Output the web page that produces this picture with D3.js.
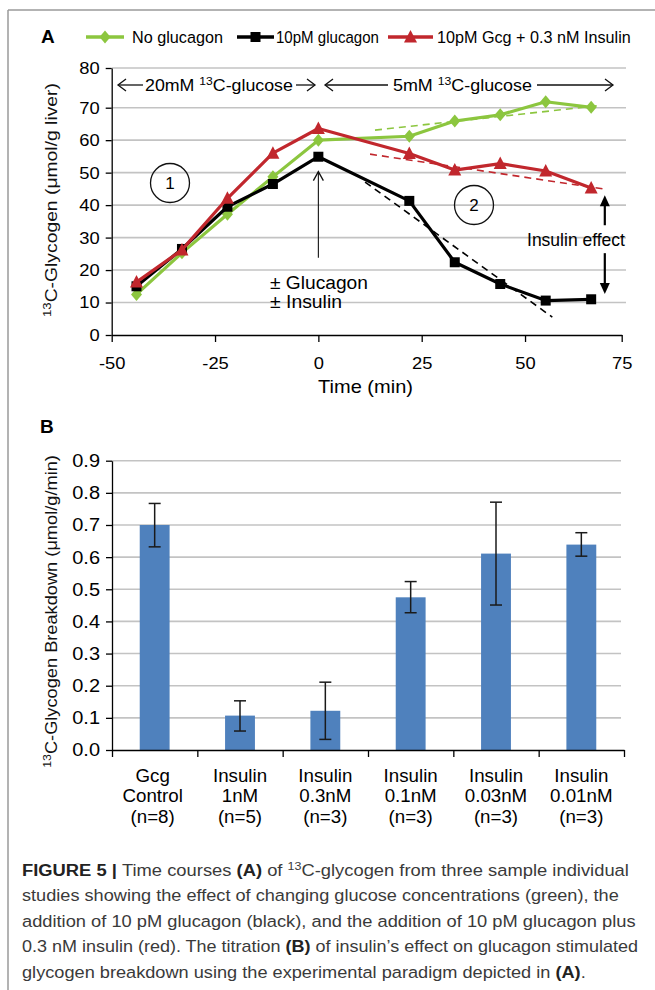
<!DOCTYPE html>
<html><head><meta charset="utf-8">
<script src="https://cdn.jsdelivr.net/npm/d3@7"></script>
<style>
body{margin:0;background:#fff;}
svg{display:block;font-family:"Liberation Sans",Arial,sans-serif;}
text{white-space:pre;}
</style></head><body>
<svg id="c" width="655" height="990"></svg>
<script>
// ---------- Panel A data ----------
const times = [-44, -33, -22, -11, 0, 22, 33, 44, 55, 66];
const noGlucagon   = [12.5, 25.3, 37.2, 48.7, 60.0, 61.2, 65.9, 67.8, 71.5, 70.1];
const glucagon10pM = [15.0, 26.5, 39.5, 46.5, 54.9, 41.3, 22.4, 15.7, 10.6, 11.0];
const gcgInsulin   = [16.3, 26.2, 42.1, 56.0, 63.6, 55.9, 50.8, 52.8, 50.5, 45.3];
const seriesNames  = ["No glucagon", "10pM glucagon", "10pM Gcg + 0.3 nM Insulin"];
const xTicksA = [-50, -25, 0, 25, 50, 75];
const yTicksA = [0, 10, 20, 30, 40, 50, 60, 70, 80];
// dashed trend lines: [time, value] end points
const trendGreen = [[13.7, 63.1], [67.7, 70.5]];
const trendRed   = [[12.5, 55.7], [69.4, 44.9]];
const trendBlack = [[11.3, 47.1], [56.6, 5.5]];

// ---------- Panel B data ----------
const categories = [
  ["Gcg", "Control", "(n=8)"],
  ["Insulin", "1nM", "(n=5)"],
  ["Insulin", "0.3nM", "(n=3)"],
  ["Insulin", "0.1nM", "(n=3)"],
  ["Insulin", "0.03nM", "(n=3)"],
  ["Insulin", "0.01nM", "(n=3)"]
];
const breakdown = [0.700, 0.107, 0.122, 0.475, 0.611, 0.639];
const errLow    = [0.632, 0.059, 0.033, 0.427, 0.451, 0.603];
const errHigh   = [0.767, 0.153, 0.211, 0.524, 0.771, 0.676];
const yTicksB = [0, 0.1, 0.2, 0.3, 0.4, 0.5, 0.6, 0.7, 0.8, 0.9];

// ---------- styles ----------
const GREEN = "#8cc63f", RED = "#c1272d", BLACK = "#000", BLUE = "#4f81bd", GRID = "#c3c3c3";

const svg = d3.select("#c");

function stretch(sel, sx) {
  sel.each(function () {
    const t = d3.select(this);
    const x = +t.attr("x") || 0;
    t.attr("transform", `translate(${x},0) scale(${sx},1) translate(${-x},0)`);
  });
}
function fitW(node, x0, target) {
  const w = node.getComputedTextLength();
  const k = target / w;
  d3.select(node).attr("transform", `translate(${x0},0) scale(${k},1) translate(${-x0},0)`);
}
function richText(g, segs, fs) {
  const t = g.append("text");
  let sup = false;
  segs.forEach(s => {
    const ts = t.append("tspan").text(s.t);
    if (s.bold) ts.attr("font-weight", "bold").attr("fill", "#222");
    if (s.sup) { ts.attr("font-size", fs * 0.68).attr("dy", -fs * 0.38); sup = true; }
    else if (sup) { ts.attr("dy", fs * 0.38); sup = false; }
  });
  return t;
}

// frame
svg.append("line").attr("x1", 8).attr("x2", 8).attr("y1", 10).attr("y2", 990).attr("stroke", "#9a9a9a").attr("stroke-width", 1.5);
svg.append("line").attr("x1", 8).attr("x2", 655).attr("y1", 10).attr("y2", 10).attr("stroke", "#9a9a9a").attr("stroke-width", 1.5);

// ================= PANEL A =================
const xA = d3.scaleLinear().domain([-50, 70, 75]).range([111.7, 607.7, 621.7]);
const yA = d3.scaleLinear().domain([0, 70, 80]).range([335, 107.7, 68]);

const gA = svg.append("g");
// grid
gA.append("g").selectAll("line").data(yTicksA.filter(d => d > 0)).join("line")
  .attr("x1", 112).attr("x2", 626).attr("y1", d => yA(d)).attr("y2", d => yA(d))
  .attr("stroke", GRID).attr("stroke-width", 1.6);

// axes
const axYA = gA.append("g").attr("transform", "translate(111.7,0)")
  .call(d3.axisLeft(yA).tickValues(yTicksA).tickFormat(d => String(d)).tickSize(6).tickSizeOuter(0).tickPadding(6));
axYA.attr("font-size", 17).attr("font-family", null);
axYA.selectAll("path,line").attr("stroke", "#000").attr("stroke-width", 1.3);
stretch(axYA.selectAll("text"), 1.08);

const axXA = gA.append("g").attr("transform", "translate(0,335)")
  .call(d3.axisBottom(xA).tickValues(xTicksA).tickFormat(d => String(d)).tickSize(7).tickSizeOuter(0).tickPadding(15));
axXA.attr("font-size", 17).attr("font-family", null);
axXA.selectAll("path,line").attr("stroke", "#000").attr("stroke-width", 1.3);
stretch(axXA.selectAll("text"), 1.08);

// axis titles
const tX = gA.append("text").attr("x", 365.5).attr("y", 393).attr("text-anchor", "middle").attr("font-size", 18).text("Time (min)");
fitW(tX.node(), 365.5, 95);

const tYA = gA.append("g").attr("transform", "translate(57,200) rotate(-90)");
const tYAt = richText(tYA, [{t: "13", sup: true}, {t: "C-Glycogen (μmol/g liver)"}], 17)
  .attr("text-anchor", "middle").attr("font-size", 17).attr("fill", "#111");
fitW(tYAt.node(), 0, 234);

// trend lines
const lineGen = d3.line().x(d => xA(d[0])).y(d => yA(d[1]));
[[trendGreen, GREEN], [trendRed, RED], [trendBlack, BLACK]].forEach(([pts, c]) => {
  gA.append("path").attr("d", lineGen(pts)).attr("fill", "none").attr("stroke", c)
    .attr("stroke-width", 1.6).attr("stroke-dasharray", "7,5");
});

// markers
function diamond(g, x, y, c) {
  g.append("path").attr("d", `M${x},${y - 6.5}L${x + 5.5},${y}L${x},${y + 6.5}L${x - 5.5},${y}Z`).attr("fill", c);
}
function square(g, x, y, c) {
  g.append("rect").attr("x", x - 5).attr("y", y - 5).attr("width", 10).attr("height", 10).attr("fill", c);
}
function triangle(g, x, y, c) {
  g.append("path").attr("d", `M${x},${y - 7}L${x + 6.5},${y + 5.5}L${x - 6.5},${y + 5.5}Z`).attr("fill", c);
}
const seriesA = [
  {vals: noGlucagon, color: GREEN, mk: diamond},
  {vals: glucagon10pM, color: BLACK, mk: square},
  {vals: gcgInsulin, color: RED, mk: triangle}
];
const serLine = d3.line().x((d, i) => xA(times[i])).y(d => yA(d));
seriesA.forEach(s => {
  const g = gA.append("g");
  g.append("path").attr("d", serLine(s.vals)).attr("fill", "none").attr("stroke", s.color)
    .attr("stroke-width", 3.2).attr("stroke-linejoin", "round");
  s.vals.forEach((v, i) => s.mk(g, xA(times[i]), yA(v), s.color));
});

// legend
const legY = 37;
const legItems = [
  {x1: 86, x2: 124, tx: 132, w: 91},
  {x1: 237, x2: 274, tx: 276, w: 103},
  {x1: 388, x2: 433, tx: 437, w: 194}
];
legItems.forEach((L, i) => {
  const s = seriesA[i];
  gA.append("line").attr("x1", L.x1).attr("x2", L.x2).attr("y1", legY).attr("y2", legY)
    .attr("stroke", s.color).attr("stroke-width", 3.5);
  s.mk(gA, (L.x1 + L.x2) / 2, legY, s.color);
  const t = gA.append("text").attr("x", L.tx).attr("y", 43).attr("font-size", 16.5).text(seriesNames[i]);
  fitW(t.node(), L.tx, L.w);
});
svg.append("text").attr("x", 41).attr("y", 43).attr("font-size", 19).attr("font-weight", "bold").text("A");

// arrow helpers
function openHead(g, x, y, dir) {
  let d;
  if (dir === "l") d = `M${x + 8},${y - 6}L${x},${y}L${x + 8},${y + 6}`;
  else if (dir === "r") d = `M${x - 8},${y - 6}L${x},${y}L${x - 8},${y + 6}`;
  else d = `M${x - 5},${y + 9}L${x},${y}L${x + 5},${y + 9}`;
  g.append("path").attr("d", d).attr("fill", "none").attr("stroke", "#111").attr("stroke-width", 1.3);
}
function hline(g, x1, x2, y) {
  g.append("line").attr("x1", x1).attr("x2", x2).attr("y1", y).attr("y2", y).attr("stroke", "#111").attr("stroke-width", 1.3);
}
// 20mM period
const aY = 85;
hline(gA, 118, 143, aY); openHead(gA, 118, aY, "l");
const t20 = richText(gA, [{t: "20mM "}, {t: "13", sup: true}, {t: "C-glucose"}], 17).attr("x", 145).attr("y", aY + 6).attr("font-size", 17);
fitW(t20.node(), 145, 148);
hline(gA, 296, 315, aY); openHead(gA, 315, aY, "r");
// 5mM period
hline(gA, 325, 388, aY); openHead(gA, 325, aY, "l");
const t5 = richText(gA, [{t: "5mM "}, {t: "13", sup: true}, {t: "C-glucose"}], 17).attr("x", 393).attr("y", aY + 6).attr("font-size", 17);
fitW(t5.node(), 393, 139);
hline(gA, 537, 613, aY); openHead(gA, 613, aY, "r");

// circled numbers
[[170, 183, "1"], [474, 205, "2"]].forEach(([cx, cy, lab]) => {
  gA.append("circle").attr("cx", cx).attr("cy", cy).attr("r", 19.5).attr("fill", "none").attr("stroke", "#111").attr("stroke-width", 1.3);
  gA.append("text").attr("x", cx).attr("y", cy + 6).attr("text-anchor", "middle").attr("font-size", 17).text(lab);
});

// ± Glucagon arrow
gA.append("line").attr("x1", xA(0)).attr("x2", xA(0)).attr("y1", yA(23.8)).attr("y2", yA(50.3)).attr("stroke", "#111").attr("stroke-width", 1.1);
openHead(gA, xA(0), yA(50.3), "u");
const tg1 = gA.append("text").attr("x", 270).attr("y", 289).attr("font-size", 19).text("± Glucagon");
fitW(tg1.node(), 270, 98);
const tg2 = gA.append("text").attr("x", 270).attr("y", 308).attr("font-size", 19).text("± Insulin");
fitW(tg2.node(), 270, 72);

// Insulin effect double arrow
const ax = xA(69.3);
gA.append("line").attr("x1", ax).attr("x2", ax).attr("y1", yA(41.5)).attr("y2", yA(33.8)).attr("stroke", "#000").attr("stroke-width", 2.2);
gA.append("path").attr("d", `M${ax},${yA(43)}L${ax + 5},${yA(43) + 11}L${ax - 5},${yA(43) + 11}Z`).attr("fill", "#000");
gA.append("line").attr("x1", ax).attr("x2", ax).attr("y1", yA(25.2)).attr("y2", yA(15)).attr("stroke", "#000").attr("stroke-width", 2.2);
gA.append("path").attr("d", `M${ax},${yA(12.6)}L${ax + 5},${yA(12.6) - 11}L${ax - 5},${yA(12.6) - 11}Z`).attr("fill", "#000");
const tie = gA.append("text").attr("x", 576).attr("y", 246).attr("text-anchor", "middle").attr("font-size", 18).text("Insulin effect");
fitW(tie.node(), 576, 98);

// ================= PANEL B =================
const gB = svg.append("g");
const yB = d3.scaleLinear().domain([0, 0.9]).range([750, 460.7]);
const xB = d3.scaleBand().domain(d3.range(categories.length)).range([112, 624]);
const xBound = d3.scaleLinear().domain([0, categories.length]).range([112, 624]);

gB.append("g").selectAll("line").data(yTicksB.filter(d => d > 0)).join("line")
  .attr("x1", 112).attr("x2", 621).attr("y1", d => yB(d)).attr("y2", d => yB(d))
  .attr("stroke", GRID).attr("stroke-width", 1.6);

const bw = xB.bandwidth() * 0.35;
gB.append("g").selectAll("rect").data(breakdown).join("rect")
  .attr("x", (d, i) => xB(i) + xB.bandwidth() / 2 - bw / 2)
  .attr("width", bw)
  .attr("y", d => yB(d)).attr("height", d => yB(0) - yB(d))
  .attr("fill", BLUE);

// error bars
const eb = gB.append("g").attr("stroke", "#1a1a1a").attr("stroke-width", 1.5);
breakdown.forEach((d, i) => {
  const cx = xB(i) + xB.bandwidth() / 2;
  eb.append("line").attr("x1", cx).attr("x2", cx).attr("y1", yB(errLow[i])).attr("y2", yB(errHigh[i]));
  eb.append("line").attr("x1", cx - 6).attr("x2", cx + 6).attr("y1", yB(errLow[i])).attr("y2", yB(errLow[i]));
  eb.append("line").attr("x1", cx - 6).attr("x2", cx + 6).attr("y1", yB(errHigh[i])).attr("y2", yB(errHigh[i]));
});

const axYB = gB.append("g").attr("transform", "translate(112,0)")
  .call(d3.axisLeft(yB).tickValues(yTicksB).tickFormat(d3.format(".1f")).tickSize(6).tickSizeOuter(0).tickPadding(6));
axYB.attr("font-size", 18.5).attr("font-family", null);
axYB.selectAll("path,line").attr("stroke", "#000").attr("stroke-width", 1.3);
stretch(axYB.selectAll("text"), 1.08);

const axXB = gB.append("g").attr("transform", "translate(0,750)")
  .call(d3.axisBottom(xBound).tickValues(d3.range(categories.length + 1)).tickFormat("").tickSize(7).tickSizeOuter(0));
axXB.selectAll("path,line").attr("stroke", "#000").attr("stroke-width", 1.3);

// category labels
categories.forEach((lines, i) => {
  const cx = xB(i) + xB.bandwidth() / 2 - (i === 0 ? 2 : 0);
  lines.forEach((l, j) => {
    const t = gB.append("text").attr("x", cx).attr("y", 782 + j * 20.5).attr("text-anchor", "middle")
      .attr("font-size", 18).text(l);
    stretch(t, 1.04);
  });
});

svg.append("text").attr("x", 40).attr("y", 433).attr("font-size", 19).attr("font-weight", "bold").text("B");

const tYB = gB.append("g").attr("transform", "translate(57,611.5) rotate(-90)");
const tYBt = richText(tYB, [{t: "13", sup: true}, {t: "C-Glycogen Breakdown (μmol/g/min)"}], 17)
  .attr("text-anchor", "middle").attr("font-size", 17).attr("fill", "#111");
fitW(tYBt.node(), 0, 313);

// ================= CAPTION =================
const caption = [
  [{t: "FIGURE 5 | ", bold: true}, {t: "Time courses "}, {t: "(A)", bold: true}, {t: " of "}, {t: "13", sup: true}, {t: "C-glycogen from three sample individual"}],
  [{t: "studies showing the effect of changing glucose concentrations (green), the"}],
  [{t: "addition of 10 pM glucagon (black), and the addition of 10 pM glucagon plus"}],
  [{t: "0.3 nM insulin (red). The titration "}, {t: "(B)", bold: true}, {t: " of insulin’s effect on glucagon stimulated"}],
  [{t: "glycogen breakdown using the experimental paradigm depicted in "}, {t: "(A)", bold: true}, {t: "."}]
];
const capWidths = [607, 597, 614, 616, 564];
const capBase = [876, 901.5, 927, 952.5, 978];
const gC = svg.append("g").attr("fill", "#3a3a3a");
caption.forEach((segs, i) => {
  const t = richText(gC, segs, 17).attr("x", 22).attr("y", capBase[i]).attr("font-size", 17);
  fitW(t.node(), 22, capWidths[i]);
});
</script>
</body></html>
